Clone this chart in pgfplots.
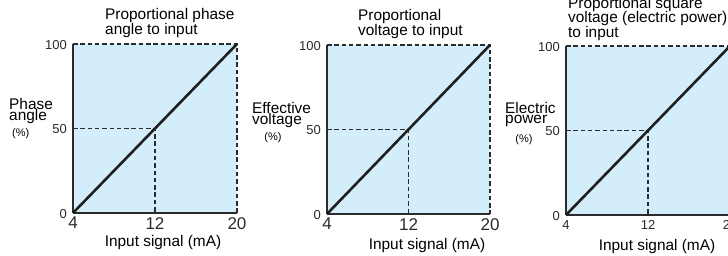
\documentclass[border=0pt]{standalone}
\usepackage{fontspec}
\setmainfont{Liberation Sans}
\usepackage{pgfplots}
\pgfplotsset{compat=1.18}
\definecolor{bgblue}{HTML}{D3EEFA}
\definecolor{axgray}{HTML}{2B2B2B}
\newcommand{\fs}[1]{\fontsize{#1}{#1}\selectfont}
\pgfplotsset{
  panel/.style={
    scale only axis, width=164pt, height=169pt,
    anchor=south west,
    xmin=4, xmax=20, ymin=0, ymax=100,
    axis x line=bottom, axis y line=left,
    axis line style={-, line width=2pt, color=axgray},
    axis background/.style={fill=bgblue},
    major tick length=0pt,
    xtick={4,12,20}, ytick={0,50,100},
    /pgf/number format/assume math mode=true,
    yticklabel style={font=\fs{13}, text=axgray, inner sep=0pt, xshift=-6pt, yshift=-1pt},
    xticklabel style={font=\fs{17}, text=axgray, inner sep=0pt, yshift=-4pt},
    clip=false,
  },
  dline/.style={line width=1.8pt, dash pattern=on 4.5pt off 2.8pt, color=axgray},
  mline/.style={line width=2.6pt, color=black!88},
}
\begin{document}
\begin{tikzpicture}
\useasboundingbox (0pt,0pt) rectangle (728pt,256pt);
\clip (0pt,0pt) rectangle (728pt,256pt);
% ---- Panel 1
\begin{axis}[panel, at={(73pt,43pt)}]
\addplot[dline] coordinates {(4,100) (20,100) (20,0)};
\addplot[dline] coordinates {(4,50) (12,50) (12,0)};
\addplot[mline] coordinates {(4,0) (20,100)};
\end{axis}
\node[anchor=west, font=\fs{15.4}, align=left, inner sep=0pt] at (105pt,233pt) {Proportional phase\\[-1pt]angle to input};
\node[anchor=west, font=\fs{15.4}, inner sep=0pt] at (9pt,152pt) {Phase};
\node[anchor=west, font=\fs{15.4}, inner sep=0pt] at (9pt,139pt) {angle};
\node[anchor=west, font=\fs{11}, inner sep=0pt] at (12pt,122pt) {(\%)};
\node[font=\fs{15.4}] at (163pt,13pt) {Input signal (mA)};
% ---- Panel 2
\begin{axis}[panel, at={(327pt,42pt)}, width=163pt]
\addplot[dline] coordinates {(4,100) (20,100) (20,0)};
\addplot[dline] coordinates {(4,50) (12,50) (12,0)};
\addplot[mline] coordinates {(4,0) (20,100)};
\end{axis}
\node[anchor=west, font=\fs{15.4}, align=left, inner sep=0pt] at (358pt,232pt) {Proportional\\[-1pt]voltage to input};
\node[anchor=west, font=\fs{15.4}, inner sep=0pt] at (252pt,148pt) {Effective};
\node[anchor=west, font=\fs{15.4}, inner sep=0pt] at (252pt,135pt) {voltage};
\node[font=\fs{11}, inner sep=0pt] at (273pt,118pt) {(\%)};
\node[font=\fs{15.4}] at (427pt,10pt) {Input signal (mA)};
% ---- Panel 3
\begin{axis}[panel, at={(566pt,41pt)}, xticklabel style={font=\fs{13}, yshift=-1pt}]
\addplot[dline] coordinates {(4,100) (20,100) (20,0)};
\addplot[dline] coordinates {(4,50) (12,50) (12,0)};
\addplot[mline] coordinates {(4,0) (20,100)};
\end{axis}
\node[anchor=west, font=\fs{15.4}, align=left, inner sep=0pt] at (568pt,237pt) {Proportional square\\[-1pt]voltage (electric power)\\[-1pt]to input};
\node[anchor=west, font=\fs{15.4}, inner sep=0pt] at (505pt,148pt) {Electric};
\node[anchor=west, font=\fs{15.4}, inner sep=0pt] at (505pt,135pt) {power};
\node[font=\fs{11}, inner sep=0pt] at (524pt,116pt) {(\%)};
\node[font=\fs{15.4}] at (657pt,9pt) {Input signal (mA)};
\end{tikzpicture}
\end{document}
